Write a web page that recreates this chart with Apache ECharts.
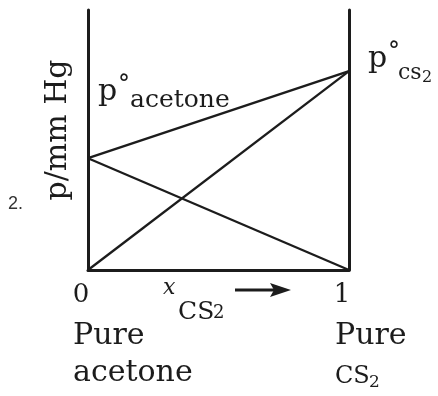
<!DOCTYPE html>
<html>
<head>
<meta charset="utf-8">
<script src="https://cdn.jsdelivr.net/npm/echarts@6/dist/echarts.min.js"></script>
<style>
  html, body { margin: 0; padding: 0; background: #fff; }
  #chart { width: 438px; height: 396px; }
</style>
</head>
<body>
<div id="chart"></div>
<script>
// mole fraction of CS2 at the two ends
var xFrac = [0, 1];
// vapour pressures (arbitrary units, axis 0..100)
var pTotal = [43, 76.5];
var pAcetone = [43, 0];
var pCS2 = [0, 76.5];
var xTickLabels = ['0', '1'];

var ink = '#1c1c1c';
var serif = 'DejaVu Serif';

var pairs = function (ys) {
  var res = [];
  for (var i = 0; i < xFrac.length; i++) {
    res.push([xFrac[i], ys[i]]);
  }
  return res;
};

var lineSeries = function (name, ys) {
  return {
    name: name,
    type: 'line',
    data: pairs(ys),
    symbol: 'none',
    silent: true,
    lineStyle: { color: ink, width: 2.3 }
  };
};

var txt = function (x, y, text, size, extra) {
  var style = {
    text: text,
    x: x,
    y: y,
    fill: ink,
    font: size + 'px "' + serif + '"',
    verticalAlign: 'top'
  };
  for (var k in extra) style[k] = extra[k];
  return { type: 'text', style: style, silent: true };
};

var option = {
  animation: false,
  backgroundColor: '#fff',
  grid: { left: 88, right: 89, top: 10, bottom: 126 },
  xAxis: {
    type: 'value',
    min: 0,
    max: 1,
    interval: 1,
    axisLine: { show: true, lineStyle: { color: ink, width: 3 } },
    axisTick: { show: false },
    splitLine: { show: false },
    axisLabel: {
      margin: 12,
      color: ink,
      fontFamily: serif,
      fontSize: 26,
      padding: [0, 14, 0, 0],
      formatter: function (v) { return xTickLabels[Math.round(v)]; }
    }
  },
  yAxis: [
    {
      type: 'value', min: 0, max: 100, position: 'left',
      axisLine: { show: true, lineStyle: { color: ink, width: 3 } },
      axisTick: { show: false }, axisLabel: { show: false }, splitLine: { show: false }
    },
    {
      type: 'value', min: 0, max: 100, position: 'right',
      axisLine: { show: true, lineStyle: { color: ink, width: 3 } },
      axisTick: { show: false }, axisLabel: { show: false }, splitLine: { show: false }
    }
  ],
  series: [
    lineSeries('total', pTotal),
    lineSeries('acetone', pAcetone),
    lineSeries('cs2', pCS2)
  ],
  graphic: [
    // question number
    txt(8, 195, '2.', 18, { font: '18px "Liberation Sans"', fill: '#333' }),
    // y axis name
    {
      type: 'text',
      x: 58, y: 130,
      rotation: Math.PI / 2,
      silent: true,
      style: {
        text: 'p/mm Hg', fill: ink, font: '30px "' + serif + '"',
        align: 'center', verticalAlign: 'middle'
      }
    },
    // p° acetone
    txt(98, 77, 'p', 30),
    txt(118, 74, '°', 24),
    txt(130, 88, 'acetone', 25),
    // p° cs2
    txt(368, 44, 'p', 30),
    txt(388, 41, '°', 24),
    txt(398, 62, 'cs', 22),
    txt(422, 70, '2', 16),
    // x CS2 ->
    txt(163, 277, 'x', 22, { font: 'italic 22px "' + serif + '"' }),
    txt(178, 300, 'CS', 25),
    txt(213, 304, '2', 18),
    {
      type: 'line', silent: true,
      shape: { x1: 235, y1: 290, x2: 276, y2: 290 },
      style: { stroke: ink, lineWidth: 3 }
    },
    {
      type: 'polygon', silent: true,
      shape: { points: [[270, 283], [291, 290], [270, 297], [274, 290]] },
      style: { fill: ink }
    },
    // end labels
    txt(73, 321, 'Pure', 30),
    txt(73, 358, 'acetone', 30),
    txt(335, 321, 'Pure', 30),
    txt(335, 365, 'CS', 24),
    txt(369, 374, '2', 17)
  ]
};

var chart = echarts.init(document.getElementById('chart'));
chart.setOption(option);
</script>
</body>
</html>
